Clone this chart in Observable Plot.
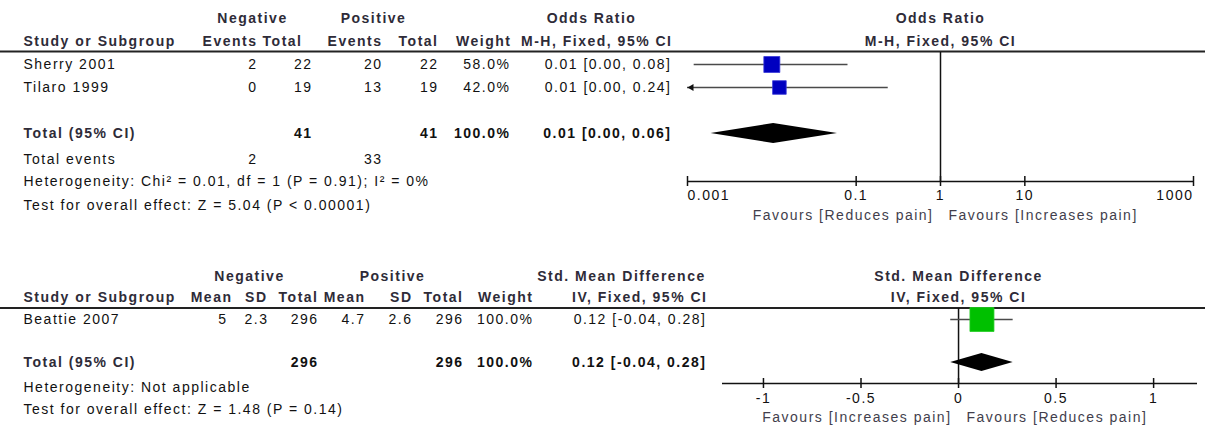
<!DOCTYPE html>
<html>
<head>
<meta charset="utf-8">
<script src="https://cdn.jsdelivr.net/npm/d3@7"></script>
<script src="https://cdn.jsdelivr.net/npm/@observablehq/plot@0.6"></script>
<style>
  body { margin: 0; background: #fff; }
  #chart { position: relative; width: 1205px; height: 425px; overflow: hidden; background: #fff; }
  #chart svg { position: absolute; }
  #chart svg text { letter-spacing: 1.5px; }
</style>
</head>
<body>
<div id="chart"></div>
<script>
// ================= DATA: Odds Ratio meta-analysis =================
const orStudy      = ["Sherry 2001", "Tilaro 1999"];
const orNegEvents  = [2, 0];
const orNegTotal   = [22, 19];
const orPosEvents  = [20, 13];
const orPosTotal   = [22, 19];
const orWeight     = [58.0, 42.0];
const orEst        = [0.0100, 0.0123];
const orLow        = [0.0012, 0.0006];
const orHigh       = [0.08, 0.24];
const orPooled     = [0.0105, 0.0019, 0.06];   // estimate, lower, upper
const orTicks      = [0.001, 0.1, 1, 10, 1000];
const orHetText    = "Heterogeneity: Chi² = 0.01, df = 1 (P = 0.91); I² = 0%";
const orTestText   = "Test for overall effect: Z = 5.04 (P < 0.00001)";
const orFavours    = ["Favours [Reduces pain]", "Favours [Increases pain]"];
const orTitle      = ["Odds Ratio", "M-H, Fixed, 95% CI"];

// ================= DATA: Std. Mean Difference meta-analysis =================
const smdStudy     = ["Beattie 2007"];
const smdNegMean   = [5];
const smdNegSD     = [2.3];
const smdNegTotal  = [296];
const smdPosMean   = [4.7];
const smdPosSD     = [2.6];
const smdPosTotal  = [296];
const smdWeight    = [100.0];
const smdEst       = [0.12];
const smdLow       = [-0.04];
const smdHigh      = [0.28];
const smdPooled    = [0.12, -0.04, 0.28];
const smdTicks     = [-1, -0.5, 0, 0.5, 1];
const smdHetText   = "Heterogeneity: Not applicable";
const smdTestText  = "Test for overall effect: Z = 1.48 (P = 0.14)";
const smdFavours   = ["Favours [Increases pain]", "Favours [Reduces pain]"];
const smdTitle     = ["Std. Mean Difference", "IV, Fixed, 95% CI"];

// ================= STYLE / LAYOUT =================
const FONT = "'Liberation Sans', Arial, sans-serif";
const HEAD = "#2e2b38";
const FAV = "#423e4c";
const INK = "#111111";
const f2 = v => v.toFixed(2);
const ciText = (e, l, h) => `${f2(e)} [${f2(l)}, ${f2(h)}]`;
const pct = v => v.toFixed(1) + "%";
const sum = a => a.reduce((s, v) => s + v, 0);

const L1 = { h1: 18, h2: 41, rows: [64, 87], total: 133, events: 159, het: 181, test: 205,
             rule: 51, nullTop: 52, axis: 181, tickLab: 195, fav: 215, diamondH: 10 };
const L2 = { h1: 276, h2: 297, rows: [319], total: 362, het: 387, test: 409,
             rule: 307.5, nullTop: 308, axis: 383, tickLab: 398, fav: 417, diamondH: 9 };

function cell(x, y, text, anchor = "end", bold = false, fill = INK) {
  return { x, y, text: String(text), anchor, bold, fill };
}

function textMarks(cells) {
  const marks = [];
  for (const a of ["start", "middle", "end"]) for (const b of [false, true]) {
    const sub = cells.filter(c => c.anchor === a && c.bold === b);
    if (sub.length) marks.push(Plot.text(sub, {
      x: "x", y: "y", text: "text", fill: "fill", textAnchor: a,
      fontWeight: b ? "bold" : "normal", fontSize: 14, fontFamily: FONT
    }));
  }
  return marks;
}

// ---------- table cells, section 1 ----------
const c1 = [];
c1.push(cell(252, L1.h1, "Negative", "middle", true, HEAD));
c1.push(cell(373, L1.h1, "Positive", "middle", true, HEAD));
c1.push(cell(591, L1.h1, orTitle[0], "middle", true, HEAD));
c1.push(cell(23, L1.h2, "Study or Subgroup", "start", true, HEAD));
c1.push(cell(257, L1.h2, "Events", "end", true, HEAD));
c1.push(cell(302, L1.h2, "Total", "end", true, HEAD));
c1.push(cell(382, L1.h2, "Events", "end", true, HEAD));
c1.push(cell(438, L1.h2, "Total", "end", true, HEAD));
c1.push(cell(511, L1.h2, "Weight", "end", true, HEAD));
c1.push(cell(672, L1.h2, orTitle[1], "end", true, HEAD));
orStudy.forEach((s, i) => {
  const y = L1.rows[i];
  c1.push(cell(23, y, s, "start"));
  c1.push(cell(257, y, orNegEvents[i]));
  c1.push(cell(312, y, orNegTotal[i]));
  c1.push(cell(382, y, orPosEvents[i]));
  c1.push(cell(438, y, orPosTotal[i]));
  c1.push(cell(510, y, pct(orWeight[i])));
  c1.push(cell(671, y, ciText(orEst[i], orLow[i], orHigh[i])));
});
c1.push(cell(23, L1.total, "Total (95% CI)", "start", true, HEAD));
c1.push(cell(312, L1.total, sum(orNegTotal), "end", true));
c1.push(cell(438, L1.total, sum(orPosTotal), "end", true));
c1.push(cell(510, L1.total, pct(sum(orWeight)), "end", true));
c1.push(cell(671, L1.total, ciText(...orPooled), "end", true));
c1.push(cell(23, L1.events, "Total events", "start"));
c1.push(cell(257, L1.events, sum(orNegEvents)));
c1.push(cell(382, L1.events, sum(orPosEvents)));
c1.push(cell(23, L1.het, orHetText, "start"));
c1.push(cell(23, L1.test, orTestText, "start"));

// ---------- table cells, section 2 ----------
const c2 = [];
c2.push(cell(249, L2.h1, "Negative", "middle", true, HEAD));
c2.push(cell(392, L2.h1, "Positive", "middle", true, HEAD));
c2.push(cell(621, L2.h1, smdTitle[0], "middle", true, HEAD));
c2.push(cell(23, L2.h2, "Study or Subgroup", "start", true, HEAD));
c2.push(cell(232, L2.h2, "Mean", "end", true, HEAD));
c2.push(cell(267, L2.h2, "SD", "end", true, HEAD));
c2.push(cell(318, L2.h2, "Total", "end", true, HEAD));
c2.push(cell(365, L2.h2, "Mean", "end", true, HEAD));
c2.push(cell(412, L2.h2, "SD", "end", true, HEAD));
c2.push(cell(463, L2.h2, "Total", "end", true, HEAD));
c2.push(cell(533, L2.h2, "Weight", "end", true, HEAD));
c2.push(cell(707, L2.h2, smdTitle[1], "end", true, HEAD));
smdStudy.forEach((s, i) => {
  const y = L2.rows[i];
  c2.push(cell(23, y, s, "start"));
  c2.push(cell(227, y, smdNegMean[i]));
  c2.push(cell(268, y, smdNegSD[i]));
  c2.push(cell(318, y, smdNegTotal[i]));
  c2.push(cell(365, y, smdPosMean[i]));
  c2.push(cell(412, y, smdPosSD[i]));
  c2.push(cell(463, y, smdPosTotal[i]));
  c2.push(cell(533, y, pct(smdWeight[i])));
  c2.push(cell(706, y, ciText(smdEst[i], smdLow[i], smdHigh[i])));
});
c2.push(cell(23, L2.total, "Total (95% CI)", "start", true, HEAD));
c2.push(cell(318, L2.total, sum(smdNegTotal), "end", true));
c2.push(cell(463, L2.total, sum(smdPosTotal), "end", true));
c2.push(cell(533, L2.total, pct(sum(smdWeight)), "end", true));
c2.push(cell(706, L2.total, ciText(...smdPooled), "end", true));
c2.push(cell(23, L2.het, smdHetText, "start"));
c2.push(cell(23, L2.test, smdTestText, "start"));

const tablePlot = Plot.plot({
  width: 1205, height: 425, margin: 0,
  x: { type: "identity", axis: null },
  y: { type: "identity", axis: null },
  color: { type: "identity" },
  style: { background: "transparent", fontFamily: FONT, fontSize: "14px" },
  marks: [
    Plot.ruleY([L1.rule, L2.rule], { stroke: "#222", strokeWidth: 2 }),
    ...textMarks(c1),
    ...textMarks(c2)
  ]
});
tablePlot.style.left = "0px"; tablePlot.style.top = "0px";

// ---------- forest plot builder ----------
function forest({ studies, est, low, high, weight, pooled, ticks, favours, title, L, nullValue,
                  xType, domain, width, marginLeft, marginRight, rMax, squareFill, squareStroke,
                  endAnchors }) {
  const [dMin, dMax] = domain;
  const rows = studies.map((s, i) => ({
    name: s, y: L.rows[i], est: est[i], w: weight[i],
    lo: Math.max(low[i], dMin), hi: Math.min(high[i], dMax), clipped: low[i] < dMin
  }));
  const diamond = [
    { x: pooled[1], y1: L.total, y2: L.total },
    { x: pooled[0], y1: L.total - L.diamondH, y2: L.total + L.diamondH },
    { x: pooled[2], y1: L.total, y2: L.total }
  ];
  const tickAnchor = (i) => endAnchors ? (i === 0 ? "start" : i === ticks.length - 1 ? "end" : "middle") : "middle";
  const tickGroups = ["start", "middle", "end"].map(a =>
    Plot.text(ticks.filter((t, i) => tickAnchor(i) === a), {
      x: d => d, y: L.tickLab, text: d => String(d), textAnchor: a,
      fill: INK, fontSize: 14, fontFamily: FONT
    }));
  return Plot.plot({
    width, height: 425, marginLeft, marginRight, marginTop: 0, marginBottom: 0,
    x: { type: xType, domain, axis: null },
    y: { type: "identity", axis: null },
    r: { type: "sqrt", domain: [0, 100], range: [0, rMax] },
    style: { background: "transparent", fontFamily: FONT, fontSize: "14px", overflow: "visible" },
    marks: [
      // header titles centred on the line of no effect
      Plot.text(title.map((t, i) => ({ t, y: i === 0 ? L.h1 : L.h2 })), {
        x: () => nullValue, y: "y", text: "t", textAnchor: "middle",
        fontWeight: "bold", fill: HEAD, fontSize: 14, fontFamily: FONT
      }),
      // line of no effect
      Plot.ruleX([nullValue], { y1: L.nullTop, y2: L.axis, stroke: "#111", strokeWidth: 1.5 }),
      // axis line and ticks
      Plot.ruleY([L.axis], { stroke: "#111", strokeWidth: 1.5 }),
      Plot.ruleX(ticks, { x: d => d, y1: L.axis - 5, y2: L.axis + 5, stroke: "#111", strokeWidth: 1.5 }),
      ...tickGroups,
      // favours labels
      Plot.text([favours[0]], { x: () => nullValue, y: L.fav, text: d => d, textAnchor: "end", dx: -7,
        fill: FAV, fontSize: 14, fontFamily: FONT }),
      Plot.text([favours[1]], { x: () => nullValue, y: L.fav, text: d => d, textAnchor: "start", dx: 8,
        fill: FAV, fontSize: 14, fontFamily: FONT }),
      // confidence intervals
      Plot.ruleY(rows, { y: "y", x1: "lo", x2: "hi", stroke: "#4a4a4a", strokeWidth: 1.6 }),
      Plot.dot(rows.filter(d => d.clipped), { x: "lo", y: "y", symbol: "triangle", rotate: -90,
        r: 2.6, fill: "#111", dx: 4 }),
      // study squares
      Plot.dot(rows, { x: "est", y: "y", r: "w", symbol: "square", fill: squareFill,
        stroke: squareStroke, strokeWidth: 0.8 }),
      // pooled diamond
      Plot.areaY(diamond, { x: "x", y1: "y1", y2: "y2", fill: "#000" })
    ]
  });
}

const fp1 = forest({
  studies: orStudy, est: orEst, low: orLow, high: orHigh, weight: orWeight, pooled: orPooled,
  ticks: orTicks, favours: orFavours, title: orTitle, L: L1, nullValue: 1,
  xType: "log", domain: [orTicks[0], orTicks[orTicks.length - 1]],
  width: 525, marginLeft: 7, marginRight: 12, rMax: 11.85,
  squareFill: "#0000c0", squareStroke: "#3a3ad8", endAnchors: true
});
fp1.style.left = "680px"; fp1.style.top = "0px";

const fp2 = forest({
  studies: smdStudy, est: smdEst, low: smdLow, high: smdHigh, weight: smdWeight, pooled: smdPooled,
  ticks: smdTicks, favours: smdFavours, title: smdTitle, L: L2, nullValue: 0,
  xType: "linear", domain: [-1.21, 1.225],
  width: 505, marginLeft: 22, marginRight: 8, rMax: 13.54,
  squareFill: "#00c000", squareStroke: "#22cc22", endAnchors: false
});
fp2.style.left = "700px"; fp2.style.top = "0px";

const chart = document.getElementById("chart");
chart.append(tablePlot, fp1, fp2);
</script>
</body>
</html>
